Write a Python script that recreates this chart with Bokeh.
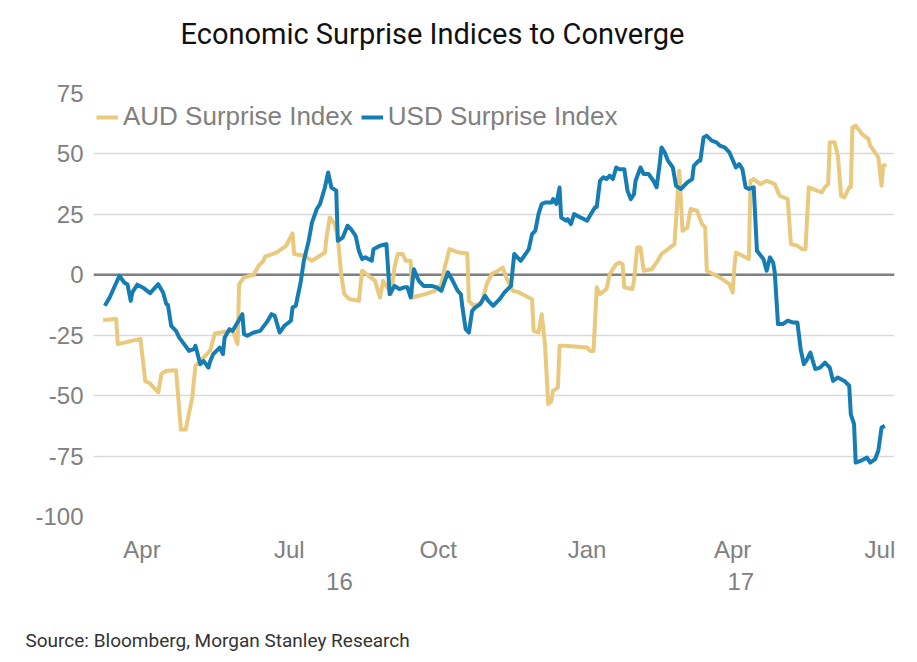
import pandas as pd
from bokeh.plotting import figure
from bokeh.models import (Range1d, FixedTicker, DatetimeTickFormatter, DatetimeAxis,
                          LinearAxis, Span, Legend, LegendItem, Title)
from bokeh.embed import file_html
from bokeh.resources import INLINE

# ---------------- data ----------------
aud_dates = [
    "2016-03-08", "2016-03-16", "2016-03-17", "2016-03-31", "2016-04-03", "2016-04-06",
    "2016-04-11", "2016-04-13", "2016-04-16", "2016-04-22", "2016-04-25", "2016-04-28",
    "2016-05-02", "2016-05-04", "2016-05-13", "2016-05-16", "2016-05-27", "2016-05-30",
    "2016-05-31", "2016-06-03", "2016-06-09", "2016-06-12", "2016-06-15", "2016-06-16",
    "2016-06-23", "2016-06-29", "2016-07-03", "2016-07-04", "2016-07-10", "2016-07-15",
    "2016-07-23", "2016-07-24", "2016-07-26", "2016-07-29", "2016-07-31", "2016-08-02",
    "2016-08-04", "2016-08-07", "2016-08-13", "2016-08-15", "2016-08-19", "2016-08-23",
    "2016-08-26", "2016-08-28", "2016-09-02", "2016-09-04", "2016-09-06", "2016-09-09",
    "2016-09-11", "2016-09-14", "2016-09-15", "2016-09-23", "2016-09-29", "2016-10-03",
    "2016-10-05", "2016-10-08", "2016-10-14", "2016-10-19", "2016-10-20", "2016-10-23",
    "2016-10-28", "2016-10-31", "2016-11-03", "2016-11-07", "2016-11-10", "2016-11-12",
    "2016-11-16", "2016-11-20", "2016-11-28", "2016-11-29", "2016-12-02", "2016-12-04",
    "2016-12-06", "2016-12-08", "2016-12-10", "2016-12-11", "2016-12-14", "2016-12-15",
    "2016-12-18", "2017-01-01", "2017-01-03", "2017-01-05", "2017-01-07", "2017-01-09",
    "2017-01-13", "2017-01-15", "2017-01-19", "2017-01-21", "2017-01-23", "2017-01-24",
    "2017-01-29", "2017-01-30", "2017-02-01", "2017-02-03", "2017-02-05", "2017-02-10",
    "2017-02-13", "2017-02-16", "2017-02-20", "2017-02-24", "2017-02-25", "2017-02-27",
    "2017-03-01", "2017-03-04", "2017-03-06", "2017-03-10", "2017-03-13", "2017-03-15",
    "2017-03-16", "2017-03-24", "2017-03-30", "2017-04-01", "2017-04-02", "2017-04-03",
    "2017-04-11", "2017-04-12", "2017-04-14", "2017-04-18", "2017-04-22", "2017-04-27",
    "2017-04-30", "2017-05-05", "2017-05-07", "2017-05-11", "2017-05-14", "2017-05-16",
    "2017-05-18", "2017-05-26", "2017-05-28", "2017-05-30", "2017-05-31", "2017-06-03",
    "2017-06-05", "2017-06-07", "2017-06-09", "2017-06-12", "2017-06-13", "2017-06-14",
    "2017-06-16", "2017-06-20", "2017-06-24", "2017-06-25", "2017-06-30", "2017-07-02",
    "2017-07-03", "2017-07-05",
]
aud_values = [
    -18.7, -18.3, -28.7, -26.5, -44.0, -45.0,
    -48.7, -41.0, -39.7, -39.5, -64.0, -64.0,
    -50.8, -37.7, -31.5, -24.3, -23.0, -28.7,
    -3.9, -1.1, 0.0, 3.7, 5.8, 7.5,
    9.2, 12.0, 17.1, 8.6, 7.9, 5.8,
    9.2, 15.4, 23.7, 21.0, 15.4, 0.4,
    -8.0, -10.0, -10.8, 1.7, -0.4, -2.5,
    -9.4, -2.5, -8.0, 3.0, 8.6, 8.6,
    5.8, 5.8, -9.4, -8.0, -6.6, -3.9,
    3.0, 10.6, 9.2, 8.8, -10.8, -12.8,
    -11.5, -3.9, 0.3, 1.7, 3.0, -1.0,
    -6.6, -7.3, -10.1, -23.2, -23.9, -16.3,
    -28.7, -53.5, -52.2, -48.0, -46.6, -29.4,
    -29.4, -30.1, -31.5, -31.5, -5.2, -8.0,
    -5.9, 0.3, 4.4, 5.1, 4.4, -5.2,
    -5.9, -2.5, 11.3, 11.3, 1.7, 2.3,
    5.1, 8.6, 10.6, 12.7, 22.4, 43.0,
    18.2, 19.6, 27.2, 26.5, 21.0, 19.6,
    1.7, -1.1, -3.9, -7.3, 3.0, 9.2,
    6.5, 38.9, 39.6, 37.5, 38.9, 37.5,
    32.7, 31.3, 12.7, 12.0, 10.6, 10.6,
    36.2, 34.1, 36.2, 37.5, 54.8, 54.8,
    49.3, 32.7, 32.0, 36.2, 36.2, 61.0,
    61.7, 58.2, 56.1, 53.4, 48.6, 36.8,
    45.1, 45.5,
]

usd_dates = [
    "2016-03-09", "2016-03-12", "2016-03-18", "2016-03-21", "2016-03-23", "2016-03-25",
    "2016-03-26", "2016-03-29", "2016-04-02", "2016-04-06", "2016-04-11", "2016-04-14",
    "2016-04-16", "2016-04-17", "2016-04-19", "2016-04-22", "2016-04-24", "2016-04-27",
    "2016-04-30", "2016-05-03", "2016-05-04", "2016-05-07", "2016-05-09", "2016-05-12",
    "2016-05-13", "2016-05-15", "2016-05-19", "2016-05-21", "2016-05-22", "2016-05-25",
    "2016-05-27", "2016-06-02", "2016-06-03", "2016-06-05", "2016-06-09", "2016-06-13",
    "2016-06-17", "2016-06-20", "2016-06-22", "2016-06-25", "2016-06-28", "2016-07-02",
    "2016-07-03", "2016-07-05", "2016-07-08", "2016-07-10", "2016-07-13", "2016-07-15",
    "2016-07-18", "2016-07-20", "2016-07-23", "2016-07-25", "2016-07-27", "2016-07-30",
    "2016-07-31", "2016-08-03", "2016-08-06", "2016-08-08", "2016-08-11", "2016-08-13",
    "2016-08-15", "2016-08-17", "2016-08-21", "2016-08-22", "2016-08-26", "2016-08-30",
    "2016-08-31", "2016-09-01", "2016-09-04", "2016-09-07", "2016-09-10", "2016-09-12",
    "2016-09-14", "2016-09-16", "2016-09-19", "2016-09-22", "2016-09-27", "2016-09-30",
    "2016-10-03", "2016-10-07", "2016-10-10", "2016-10-13", "2016-10-15", "2016-10-16",
    "2016-10-18", "2016-10-20", "2016-10-22", "2016-10-24", "2016-10-27", "2016-10-30",
    "2016-11-01", "2016-11-04", "2016-11-08", "2016-11-11", "2016-11-15", "2016-11-17",
    "2016-11-19", "2016-11-21", "2016-11-24", "2016-11-26", "2016-11-28", "2016-11-30",
    "2016-12-02", "2016-12-04", "2016-12-06", "2016-12-10", "2016-12-11", "2016-12-13",
    "2016-12-15", "2016-12-16", "2016-12-19", "2016-12-20", "2016-12-22", "2016-12-24",
    "2016-12-28", "2017-01-01", "2017-01-04", "2017-01-06", "2017-01-07", "2017-01-09",
    "2017-01-11", "2017-01-13", "2017-01-15", "2017-01-17", "2017-01-19", "2017-01-21",
    "2017-01-24", "2017-01-26", "2017-01-28", "2017-01-30", "2017-01-31", "2017-02-03",
    "2017-02-05", "2017-02-08", "2017-02-11", "2017-02-13", "2017-02-15", "2017-02-16",
    "2017-02-18", "2017-02-20", "2017-02-23", "2017-02-25", "2017-02-28", "2017-03-04",
    "2017-03-07", "2017-03-08", "2017-03-11", "2017-03-12", "2017-03-14", "2017-03-16",
    "2017-03-19", "2017-03-22", "2017-03-24", "2017-03-27", "2017-03-30", "2017-04-03",
    "2017-04-05", "2017-04-07", "2017-04-09", "2017-04-11", "2017-04-14", "2017-04-16",
    "2017-04-20", "2017-04-22", "2017-04-24", "2017-04-26", "2017-04-27", "2017-04-29",
    "2017-05-02", "2017-05-05", "2017-05-08", "2017-05-11", "2017-05-13", "2017-05-15",
    "2017-05-17", "2017-05-19", "2017-05-22", "2017-05-25", "2017-05-28", "2017-05-31",
    "2017-06-02", "2017-06-05", "2017-06-09", "2017-06-12", "2017-06-13", "2017-06-15",
    "2017-06-16", "2017-06-19", "2017-06-23", "2017-06-25", "2017-06-28", "2017-06-30",
    "2017-07-02", "2017-07-04",
]
usd_values = [
    -12.8, -9.4, -0.4, -3.2, -4.0, -10.8,
    -7.3, -4.1, -5.5, -7.6, -3.9, -7.3,
    -12.1, -12.5, -21.1, -23.2, -26.0, -28.7,
    -31.5, -30.8, -29.4, -37.0, -35.6, -38.4,
    -36.0, -32.8, -30.1, -32.8, -26.0, -22.5,
    -23.2, -16.3, -24.5, -25.2, -23.9, -23.2,
    -19.7, -16.3, -17.0, -23.9, -21.1, -19.0,
    -13.5, -12.8, -3.2, 5.8, 14.1, 21.6,
    27.2, 29.3, 36.1, 42.3, 36.1, 34.8,
    14.1, 15.4, 20.3, 19.0, 16.1, 9.9,
    6.5, 7.2, 5.8, 10.6, 12.0, 12.7,
    3.0, -8.0, -4.6, -5.9, -5.2, -5.2,
    -9.4, 2.3, -2.5, -4.6, -4.6, -5.2,
    -6.6, 1.0, -2.5, -6.6, -8.0, -13.5,
    -22.5, -23.9, -14.9, -13.5, -12.1, -8.7,
    -10.8, -12.8, -10.1, -7.3, -4.6, 8.6,
    7.2, 5.8, 8.6, 10.6, 16.8, 18.2,
    25.1, 29.3, 29.9, 29.9, 31.3, 29.3,
    36.1, 23.7, 22.4, 23.0, 21.0, 25.1,
    23.7, 22.4, 25.8, 27.9, 28.0, 38.9,
    40.3, 39.6, 41.0, 39.6, 44.4, 43.7,
    43.7, 34.8, 31.3, 33.4, 38.9, 44.4,
    41.7, 41.7, 38.9, 36.2, 46.5, 52.7,
    50.6, 47.2, 44.4, 36.8, 35.5, 38.2,
    39.6, 45.1, 47.2, 47.2, 56.8, 57.5,
    55.5, 54.8, 53.4, 52.7, 50.6, 44.4,
    45.8, 43.7, 36.2, 35.5, 36.2, 9.9,
    6.5, 1.7, 7.2, 5.1, 1.0, -20.4,
    -20.4, -19.0, -19.7, -19.7, -30.8, -37.0,
    -35.0, -32.2, -39.0, -38.4, -36.3, -38.4,
    -43.9, -42.5, -43.9, -45.9, -57.7, -61.8,
    -77.7, -77.0, -75.6, -77.7, -76.3, -72.8,
    -63.2, -62.5,
]

y_ticks = [-100, -75, -50, -25, 0, 25, 50, 75]
month_ticks = ["2016-04-01", "2016-07-01", "2016-10-01", "2017-01-01", "2017-04-01", "2017-07-01"]
x_start, x_end = "2016-03-02", "2017-07-10"
series_names = ["AUD Surprise Index", "USD Surprise Index"]
title_text = "Economic Surprise Indices to Converge"
source_text = "Source: Bloomberg, Morgan Stanley Research"

GOLD = "#E9C97E"
BLUE = "#167DB4"
GRAY_TXT = "#808080"


def ms(s):
    return int(pd.Timestamp(s).value // 10**6)


def spacer(gap, at):
    # an axis with a single white tick and an empty label: it only reserves room
    return LinearAxis(ticker=FixedTicker(ticks=[at]), major_label_overrides={at: ""},
                      major_tick_out=gap, major_tick_in=0, major_label_standoff=0,
                      axis_line_color=None, major_tick_line_color="white",
                      major_tick_line_alpha=1.0, minor_tick_line_color=None, minor_tick_out=0)


# ---------------- figure ----------------
p = figure(width=909, height=654, x_axis_type="datetime",
           x_range=Range1d(ms(x_start), ms(x_end)), y_range=Range1d(-100, 75),
           output_backend="svg", toolbar_location=None,
           min_border_left=93, min_border_right=15, min_border_top=93, min_border_bottom=138)
p.outline_line_color = None
p.background_fill_color = "white"
p.border_fill_color = "white"

# y axis
p.yaxis.ticker = FixedTicker(ticks=y_ticks)
p.yaxis.major_label_overrides = {t: str(t) for t in y_ticks}
p.yaxis.axis_line_color = None
p.yaxis.major_tick_line_color = None
p.yaxis.minor_tick_line_color = None
p.yaxis.major_label_standoff = 4
p.yaxis.major_label_text_font = "Liberation Sans"
p.yaxis.major_label_text_font_size = "24px"
p.yaxis.major_label_text_color = GRAY_TXT

p.ygrid.ticker = FixedTicker(ticks=y_ticks)
p.ygrid.grid_line_color = "#D9D9D9"
p.ygrid.grid_line_width = 1.5
p.xgrid.grid_line_color = None

# x axis (months)
fmt_m = "%b"
p.xaxis.ticker = FixedTicker(ticks=[ms(d) for d in month_ticks])
p.xaxis.formatter = DatetimeTickFormatter(
    microseconds=fmt_m, milliseconds=fmt_m, seconds=fmt_m, minsec=fmt_m, minutes=fmt_m,
    hourmin=fmt_m, hours=fmt_m, days=fmt_m, months=fmt_m, years=fmt_m)
p.xaxis.axis_line_color = None
p.xaxis.major_tick_line_color = None
p.xaxis.minor_tick_line_color = None
p.xaxis.major_label_standoff = 13
p.xaxis.major_label_text_font = "Liberation Sans"
p.xaxis.major_label_text_font_size = "24px"
p.xaxis.major_label_text_color = GRAY_TXT

# x axis (years), centred in each year's visible span
y1_mid = (ms(x_start) + ms("2016-12-31")) // 2
y2_mid = (ms("2017-01-01") + ms(x_end)) // 2
fmt_y = "%y"
year_axis = DatetimeAxis(
    ticker=FixedTicker(ticks=[y1_mid, y2_mid]),
    formatter=DatetimeTickFormatter(
        microseconds=fmt_y, milliseconds=fmt_y, seconds=fmt_y, minsec=fmt_y, minutes=fmt_y,
        hourmin=fmt_y, hours=fmt_y, days=fmt_y, months=fmt_y, years=fmt_y),
    axis_line_color=None, major_tick_line_color=None, minor_tick_line_color=None,
    major_label_standoff=1, major_label_text_font="Liberation Sans",
    major_label_text_font_size="24px", major_label_text_color=GRAY_TXT)
p.add_layout(year_axis, "below")

# source note below the year labels
p.add_layout(spacer(34, y1_mid), "below")
p.add_layout(Title(text=source_text, align="left", offset=-68, standoff=0,
                   text_font="Roboto", text_font_size="19px", text_font_style="normal",
                   text_color="#333333"), "below")

# main title above the frame
p.add_layout(spacer(43, y1_mid), "above")
p.add_layout(Title(text=title_text, align="left", offset=87, standoff=0,
                   text_font="Roboto", text_font_size="29px", text_font_style="normal",
                   text_color="#111111"), "above")

# zero line
p.add_layout(Span(location=0, dimension="width", line_color="#808080",
                  line_width=2.5, level="underlay"))

# series
r_aud = p.line(pd.to_datetime(aud_dates), aud_values, line_color=GOLD, line_width=4,
               line_join="round")
r_usd = p.line(pd.to_datetime(usd_dates), usd_values, line_color=BLUE, line_width=4,
               line_join="round")

legend = Legend(items=[LegendItem(label=series_names[0], renderers=[r_aud]),
                       LegendItem(label=series_names[1], renderers=[r_usd])],
                orientation="horizontal", location=(3, 384),
                glyph_width=22, label_standoff=5, spacing=8, padding=5, margin=0,
                label_text_font="Liberation Sans", label_text_font_size="26px",
                label_text_color=GRAY_TXT, label_height=30,
                background_fill_alpha=0, border_line_color=None)
p.add_layout(legend, "center")

open("out.html", "w").write(file_html(p, INLINE))
